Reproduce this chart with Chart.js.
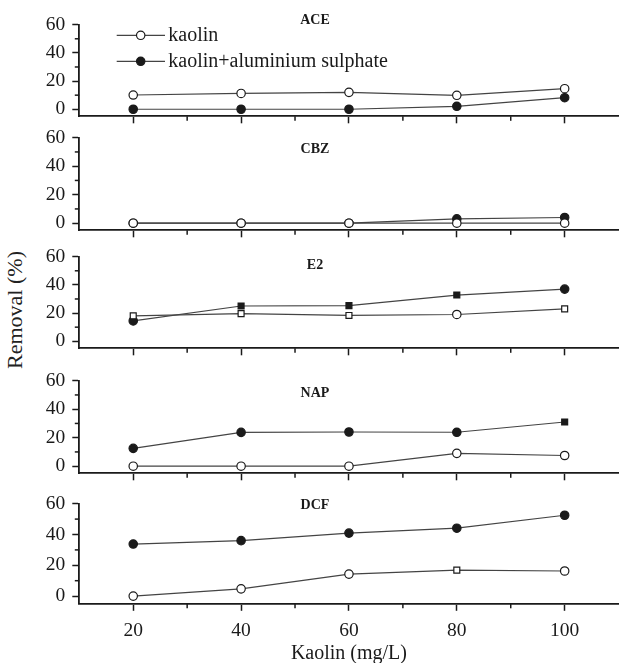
<!DOCTYPE html>
<html><head><meta charset="utf-8">
<script src="https://cdn.jsdelivr.net/npm/chart.js@4.4.0/dist/chart.umd.min.js"></script>
<style>
html,body{margin:0;padding:0;background:#fff;overflow:hidden;width:620px;height:663px;}
#wrap{position:relative;width:620px;height:663px;overflow:hidden;}
canvas{position:absolute;left:0;}
#ytitle{position:absolute;font-family:"Liberation Serif",serif;font-size:22px;color:#222;white-space:nowrap;transform:translate(-50%,-50%) rotate(-90deg);left:15px;top:310px;}
</style></head><body><div id="wrap"><div id="ytitle">Removal (%)</div></div>
<script>
// ---- data ----
const concentrations = [20, 40, 60, 80, 100];
const panelNames = ['ACE', 'CBZ', 'E2', 'NAP', 'DCF'];
const seriesNames = ['kaolin', 'kaolin+aluminium sulphate'];
const aceKaolin = [10.1, 11.2, 12.0, 9.9, 14.6];
const aceAlum   = [0, 0, 0, 2.1, 8.2];
const cbzKaolin = [0, 0, 0, 0, 0];
const cbzAlum   = [0, 0, 0, 3.0, 4.0];
const e2Kaolin  = [18.0, 19.6, 18.3, 19.0, 23.0];
const e2Alum    = [14.4, 25.0, 25.3, 32.8, 37.0];
const napKaolin = [0, 0, 0, 9.0, 7.5];
const napAlum   = [12.5, 23.7, 24.0, 23.8, 31.0];
const dcfKaolin = [0, 4.7, 14.3, 16.9, 16.3];
const dcfAlum   = [33.8, 36.0, 40.9, 44.1, 52.5];
const xTicks = [20, 30, 40, 50, 60, 70, 80, 90, 100];
const xTickLabels = [20, 40, 60, 80, 100];
const yTicks = [0, 10, 20, 30, 40, 50, 60];
const yTickLabels = [0, 20, 40, 60];
const xTitle = 'Kaolin (mg/L)';

const panelSeries = [
  [aceKaolin, aceAlum], [cbzKaolin, cbzAlum], [e2Kaolin, e2Alum], [napKaolin, napAlum], [dcfKaolin, dcfAlum]
];
// marker shapes (style only)
const kaolinShapes = [
  ['circle','circle','circle','circle','circle'],
  ['circle','circle','circle','circle','circle'],
  ['rect','rect','rect','circle','rect'],
  ['circle','circle','circle','circle','circle'],
  ['circle','circle','circle','rect','circle']
];
const alumShapes = [
  ['circle','circle','circle','circle','circle'],
  ['circle','circle','circle','circle','circle'],
  ['circle','rect','rect','rect','circle'],
  ['circle','circle','circle','circle','rect'],
  ['circle','circle','circle','circle','circle']
];

// ---- layout (page pixels) ----
const geo = [
  {top: 21.7, bottom: 122.7, label: 20},
  {top: 134.7, bottom: 236.7, label: 149},
  {top: 254, bottom: 355, label: 265},
  {top: 377.7, bottom: 479.3, label: 393},
  {top: 500.7, bottom: 603.3, label: 505}
];
const AXIS_LEFT = 79.3;
const CANVAS_W = 624;
const PAD_TOP = 16;
const INK = '#1a1a1a';
const LINE = '#444';
const FONT = '"Liberation Serif", "Times New Roman", serif';

const decorPlugin = {
  id: 'decor',
  afterDraw(chart, args, opts) {
    const ctx = chart.ctx, xs = chart.scales.x, ys = chart.scales.y, a = chart.chartArea;
    const off = opts.canvasTop;
    ctx.save();
    ctx.strokeStyle = INK; ctx.lineWidth = 1.5;
    xTicks.filter(v => v % 20 !== 0).forEach(v => {
      const p = xs.getPixelForValue(v);
      ctx.beginPath(); ctx.moveTo(p, a.bottom); ctx.lineTo(p, a.bottom + 4.5); ctx.stroke();
    });
    yTicks.filter(v => v % 20 !== 0).forEach(v => {
      const p = ys.getPixelForValue(v);
      ctx.beginPath(); ctx.moveTo(a.left, p); ctx.lineTo(a.left - 4.5, p); ctx.stroke();
    });
    // panel label
    ctx.fillStyle = INK;
    ctx.font = 'bold 14px ' + FONT;
    ctx.textAlign = 'center'; ctx.textBaseline = 'middle';
    ctx.fillText(opts.name, 315, opts.labelY - off);
    // legend (first panel only)
    if (opts.legend) {
      const rows = [35, 61];
      rows.forEach((ry, k) => {
        const y = ry - off;
        ctx.strokeStyle = LINE; ctx.lineWidth = 1.2;
        ctx.beginPath(); ctx.moveTo(116.7, y); ctx.lineTo(165, y); ctx.stroke();
        ctx.beginPath(); ctx.arc(140.7, y, 4.2, 0, Math.PI * 2);
        ctx.fillStyle = k === 0 ? '#fff' : INK; ctx.fill();
        ctx.strokeStyle = INK; ctx.lineWidth = 1.2; ctx.stroke();
        ctx.fillStyle = INK; ctx.font = '20px ' + FONT;
        ctx.textAlign = 'left'; ctx.textBaseline = 'middle';
        ctx.fillText(seriesNames[k], 168.3, y);
      });
    }
    ctx.restore();
  }
};

const wrap = document.getElementById('wrap');
geo.forEach((g, i) => {
  const isLast = i === geo.length - 1;
  const xH = isLast ? 663 - g.bottom + 0.5 : 12;
  const canvasTop = g.top - PAD_TOP;
  const h = Math.round((g.bottom - g.top) + PAD_TOP + xH);
  const cv = document.createElement('canvas');
  cv.width = CANVAS_W; cv.height = h;
  cv.style.width = CANVAS_W + 'px'; cv.style.height = h + 'px';
  cv.style.top = canvasTop + 'px';
  wrap.appendChild(cv);
  const [kao, alu] = panelSeries[i];
  new Chart(cv, {
    type: 'line',
    data: {
      datasets: [
        {
          label: seriesNames[0],
          data: concentrations.map((c, j) => ({x: c, y: kao[j]})),
          borderColor: LINE, borderWidth: 1.2,
          pointStyle: kaolinShapes[i], pointRadius: 4.2, pointBorderWidth: 1.2,
          pointBackgroundColor: '#fff', pointBorderColor: INK, tension: 0
        },
        {
          label: seriesNames[1],
          data: concentrations.map((c, j) => ({x: c, y: alu[j]})),
          borderColor: LINE, borderWidth: 1.2,
          pointStyle: alumShapes[i], pointRadius: 4.2, pointBorderWidth: 1.2,
          pointBackgroundColor: INK, pointBorderColor: INK, tension: 0
        }
      ]
    },
    options: {
      responsive: false, animation: false, devicePixelRatio: 1,
      layout: {padding: {top: PAD_TOP, left: 0, right: 0, bottom: 0}},
      plugins: {
        legend: {display: false}, tooltip: {enabled: false},
        decor: {canvasTop: canvasTop, labelY: g.label, name: panelNames[i], legend: i === 0}
      },
      scales: {
        x: {
          type: 'linear', min: 10, max: 110,
          afterBuildTicks: s => { s.ticks = xTicks.map(v => ({value: v})); },
          afterFit: s => { s.height = xH; },
          border: {color: INK, width: 1.8},
          grid: {drawOnChartArea: false, drawTicks: true, tickLength: 7, tickWidth: 1.5,
                 tickColor: c => (c.tick && c.tick.value % 20 === 0) ? INK : 'rgba(0,0,0,0)'},
          ticks: {
            display: isLast, padding: 8, color: INK, autoSkip: false, maxRotation: 0,
            font: {family: FONT, size: 19.5},
            callback: v => xTickLabels.includes(v) ? String(v) : ''
          },
          title: {display: isLast, text: xTitle, color: INK,
                  font: {family: FONT, size: 20, lineHeight: 1.0}, padding: {top: 0, bottom: 0}}
        },
        y: {
          type: 'linear', min: -5, max: 60,
          afterBuildTicks: s => { s.ticks = yTicks.map(v => ({value: v})); },
          afterFit: s => { s.width = AXIS_LEFT; },
          border: {color: INK, width: 1.8},
          grid: {drawOnChartArea: false, drawTicks: true, tickLength: 7, tickWidth: 1.5,
                 tickColor: c => (c.tick && c.tick.value % 20 === 0) ? INK : 'rgba(0,0,0,0)'},
          ticks: {
            padding: 7, color: INK, autoSkip: false,
            font: {family: FONT, size: 19.5},
            callback: v => yTickLabels.includes(v) ? String(v) : ''
          }
        }
      }
    },
    plugins: [decorPlugin]
  });
});
</script></body></html>
